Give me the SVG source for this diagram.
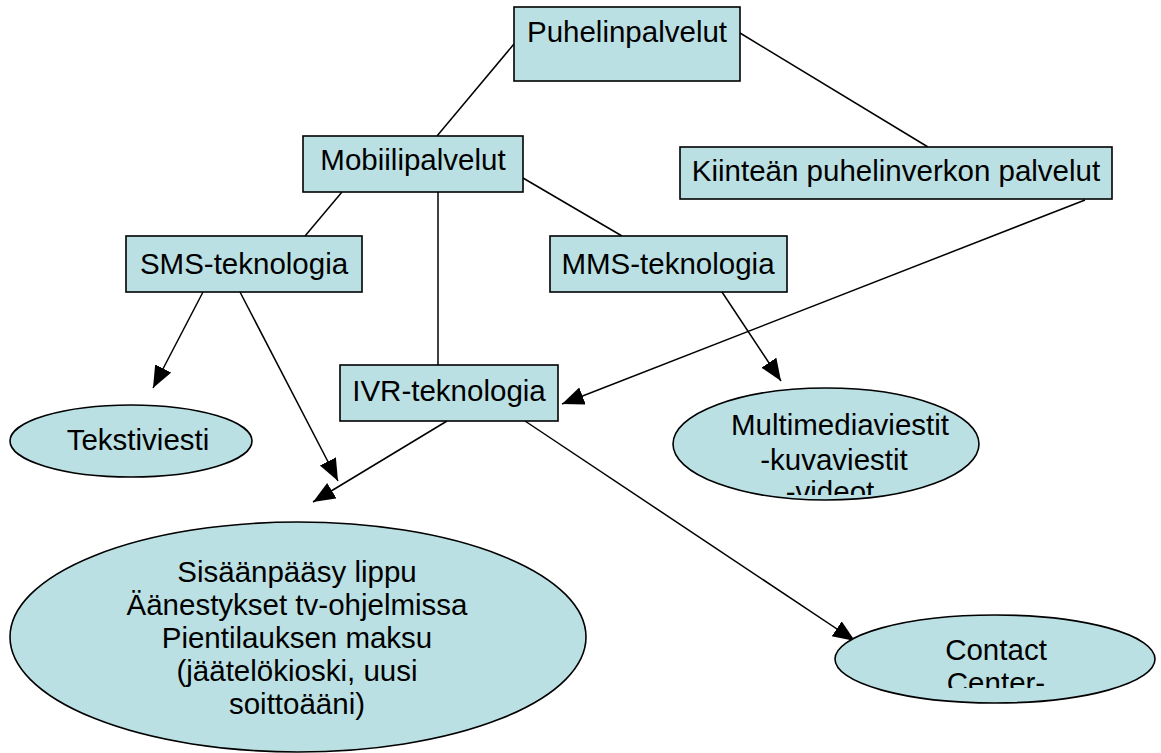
<svg xmlns="http://www.w3.org/2000/svg" width="1161" height="753" viewBox="0 0 1161 753">
<style>
.n{fill:#BBE0E3;stroke:#000;stroke-width:1.6}
.t{font-family:"Liberation Sans",Arial,sans-serif;font-size:29.5px;fill:#000;text-anchor:middle}
.c line{stroke:#000;stroke-width:1.5;fill:none}
</style>
<defs>
<marker id="ah" markerUnits="userSpaceOnUse" markerWidth="24" markerHeight="20" refX="22" refY="9" orient="auto">
<path d="M0,0 L22,9 L0,18 z" fill="#000"/>
</marker>
<clipPath id="cm"><rect x="660" y="380" width="330" height="115"/></clipPath>
<clipPath id="cc"><rect x="830" y="600" width="330" height="88"/></clipPath>
</defs>
<rect width="1161" height="753" fill="#fff"/>
<g class="c">
<line x1="514" y1="44" x2="437" y2="136"/>
<line x1="740" y1="33" x2="928" y2="147"/>
<line x1="342" y1="192" x2="305" y2="236"/>
<line x1="438" y1="192" x2="438" y2="365"/>
<line x1="523" y1="178" x2="622" y2="236"/>
<line x1="203" y1="292" x2="153" y2="388" marker-end="url(#ah)"/>
<line x1="240" y1="292" x2="338" y2="481" marker-end="url(#ah)"/>
<line x1="447" y1="421" x2="313" y2="502" marker-end="url(#ah)"/>
<line x1="722" y1="292" x2="781" y2="381" marker-end="url(#ah)"/>
<line x1="1085" y1="200" x2="562" y2="404" marker-end="url(#ah)"/>
<line x1="525" y1="421" x2="855" y2="641" marker-end="url(#ah)"/>
</g>
<g id="puhelinpalvelut"><rect class="n" x="514" y="7" width="226" height="74"/><text class="t" x="627" y="42">Puhelinpalvelut</text></g>
<g id="mobiilipalvelut"><rect class="n" x="303" y="136" width="220" height="56"/><text class="t" x="413" y="170">Mobiilipalvelut</text></g>
<g id="kiintea"><rect class="n" x="680" y="147" width="432" height="52"/><text class="t" x="896" y="181">Kiinteän puhelinverkon palvelut</text></g>
<g id="sms"><rect class="n" x="126" y="236" width="236" height="56"/><text class="t" x="244" y="274">SMS-teknologia</text></g>
<g id="mms"><rect class="n" x="550" y="236" width="237" height="56"/><text class="t" x="668" y="274">MMS-teknologia</text></g>
<g id="ivr"><rect class="n" x="340" y="365" width="218" height="56"/><text class="t" x="449" y="401">IVR-teknologia</text></g>
<g id="tekstiviesti"><ellipse class="n" cx="131" cy="441" rx="121" ry="36"/><text class="t" x="138" y="450">Tekstiviesti</text></g>
<g id="multimedia"><ellipse class="n" cx="826" cy="444" rx="153" ry="56"/>
<g clip-path="url(#cm)"><text class="t" x="840" y="435">Multimediaviestit</text><text class="t" x="834" y="470">-kuvaviestit</text><text class="t" x="830" y="502">-videot</text></g></g>
<g id="sisaanpaasy"><ellipse class="n" cx="298" cy="637" rx="288" ry="115"/>
<text class="t" x="297" y="582">Sisäänpääsy lippu</text>
<text class="t" x="297" y="615">Äänestykset tv-ohjelmissa</text>
<text class="t" x="297" y="648">Pientilauksen maksu</text>
<text class="t" x="297" y="681">(jäätelökioski, uusi</text>
<text class="t" x="297" y="714">soittoääni)</text></g>
<g id="contact"><ellipse class="n" cx="995" cy="659" rx="160" ry="44"/>
<g clip-path="url(#cc)"><text class="t" x="996" y="660">Contact</text><text class="t" x="996" y="693">Center-</text></g></g>
</svg>
